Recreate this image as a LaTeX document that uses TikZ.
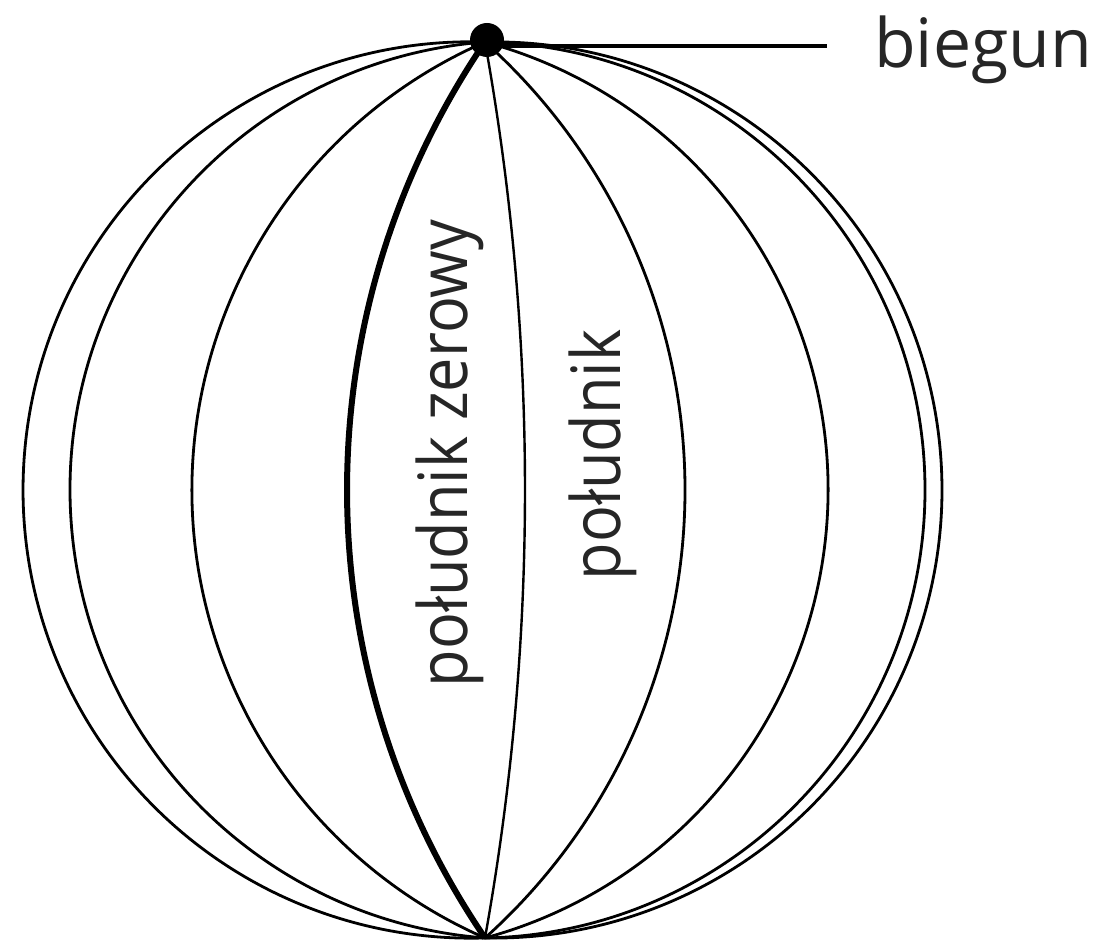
\documentclass[tikz,border=0pt]{standalone}
\usepackage{fontspec}
\setmainfont{Open Sans}
\begin{document}
\begin{tikzpicture}[x=1pt,y=1pt,
  lbl/.style={inner sep=0pt, font=\fontsize{68}{80}\selectfont, text=black!85},
  poledot/.style={circle, fill=black, minimum size=34pt, inner sep=0pt}]
\useasboundingbox (0,0) rectangle (1105,949);
\fill[white] (0,0) rectangle (1105,949);
\coordinate (T) at (485,907);
\coordinate (B) at (485,11);
% meridians: signed sagitta (in 100 px) / line width
\foreach \s/\w in {-4.62/2.8, -4.15/2.8, -2.93/2.8, -1.38/6, 0.40/2.4, 2.00/2.8, 3.43/2.8, 4.40/2.8, 4.57/2.8} {
  \pgfmathsetmacro\a{abs(\s)}
  \pgfmathsetmacro\R{(4.48*4.48+\a*\a)/(2*\a)}
  \pgfmathsetmacro\d{\R-\a}
  \pgfmathsetmacro\sd{(\s>0 ? 1 : -1)*\d}
  \pgfmathsetmacro\th{atan2(4.48,\sd)}
  \pgfmathsetmacro\en{(\s>0 ? -\th : 360-\th)}
  \pgfmathsetmacro\Rp{100*\R}
  \draw[line width=\w pt] (T) arc[start angle=\th, end angle=\en, radius=\Rp pt];
}
\node[poledot] (pole) at (487,909) {};
\coordinate (lineend) at (827,903);
\draw[line width=3.2pt] (pole.center |- lineend) -- (lineend);
\node[lbl, anchor=base west] (biegun) at (874,881) {biegun};
\node[lbl, anchor=base, rotate=90] (zerowy) at (467,495.5) {\scalebox{0.9}[1]{południk zerowy}};
\node[lbl, anchor=base, rotate=90] (poludnik) at (620,494) {\scalebox{0.9}[1]{południk}};
\end{tikzpicture}
\end{document}
